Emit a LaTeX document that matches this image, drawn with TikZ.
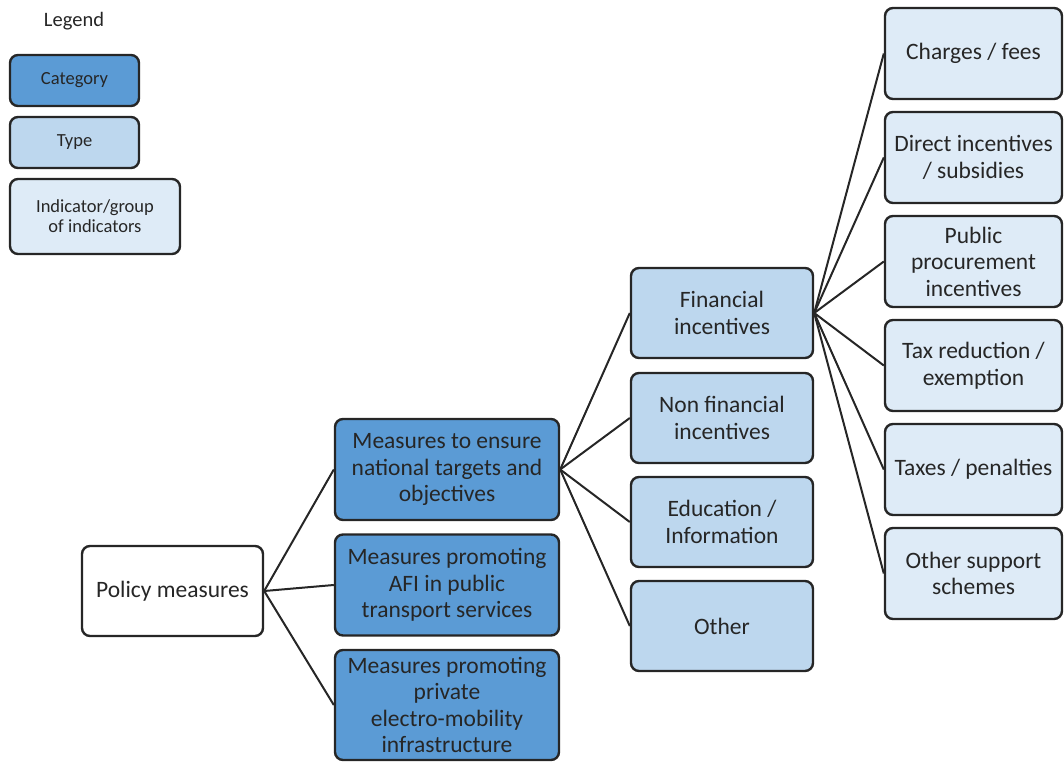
\documentclass[tikz,border=0pt]{standalone}
\usepackage{fontspec}
\setmainfont{Carlito}
\definecolor{catfill}{HTML}{5B9BD5}
\definecolor{typefill}{HTML}{BDD7EE}
\definecolor{indfill}{HTML}{DEEBF7}
\definecolor{edge}{HTML}{262626}
\definecolor{txt}{HTML}{262626}
\begin{document}
\begin{tikzpicture}[x=1pt,y=-1pt,
  box/.style={draw=edge, line width=2.4pt, rounded corners=8pt, align=center,
    text=txt, inner sep=0pt, font=\fontsize{23.5}{26.5}\selectfont},
  legbox/.style={box, font=\fontsize{18.5}{20}\selectfont},
  catbox/.style={box, fill=catfill, minimum width=224, minimum height=101},
  typebox/.style={box, fill=typefill, minimum width=182, minimum height=90},
  indbox/.style={box, fill=indfill, minimum width=177, minimum height=91},
  link/.style={draw=edge, line width=2pt}]
\useasboundingbox (0,0) rectangle (1064,762);
% legend
\node[text=txt, font=\fontsize{20.5}{22}\selectfont] (legend) at (74,21) {Legend};
\node[legbox, fill=catfill, minimum width=129, minimum height=51] (lcat) at (74.5,80.5) {Category};
\node[legbox, fill=typefill, minimum width=129, minimum height=51] (ltype) at (74.5,142.5) {Type};
\node[legbox, fill=indfill, minimum width=170, minimum height=75] (lind) at (95,216.5) {Indicator/group\\of indicators};
% root
\node[box, fill=white, minimum width=181, minimum height=90] (root) at (172.5,591) {Policy measures};
% categories
\node[catbox] (c1) at (447,469.5) {Measures to ensure\\national targets and\\objectives};
\node[catbox] (c2) at (447,585) {Measures promoting\\AFI in public\\transport services};
\node[catbox, minimum height=110] (c3) at (447,705) {Measures promoting\\private\\electro-mobility\\infrastructure};
% types
\node[typebox] (t1) at (722,313) {Financial\\incentives};
\node[typebox] (t2) at (722,418) {Non financial\\incentives};
\node[typebox] (t3) at (722,522) {Education /\\Information};
\node[typebox] (t4) at (722,626) {Other};
% indicators
\node[indbox] (i1) at (973.5,53.5) {Charges / fees};
\node[indbox] (i2) at (973.5,157.5) {Direct incentives\\/ subsidies};
\node[indbox] (i3) at (973.5,261.5) {Public\\procurement\\incentives};
\node[indbox] (i4) at (973.5,365.5) {Tax reduction /\\exemption};
\node[indbox] (i5) at (973.5,469.5) {Taxes / penalties};
\node[indbox] (i6) at (973.5,573.5) {Other support\\schemes};
% connectors
\foreach \c in {c1,c2,c3} \draw[link] (root.east) -- (\c.west);
\foreach \t in {t1,t2,t3,t4} \draw[link] (c1.east) -- (\t.west);
\foreach \i in {i1,i2,i3,i4,i5,i6} \draw[link] (t1.east) -- (\i.west);
\end{tikzpicture}
\end{document}
